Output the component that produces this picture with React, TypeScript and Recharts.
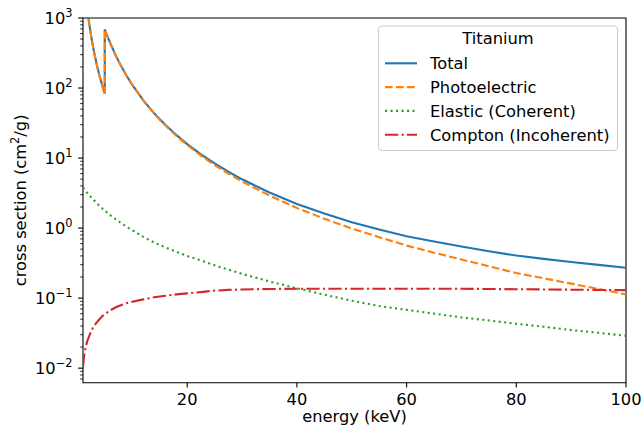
import React from 'react';
import { LineChart, Line, XAxis, YAxis, Legend, ReferenceArea } from 'recharts';

// ---- data ----
const energyKeV = [1, 1.25, 1.5, 1.75, 2, 2.5, 3, 3.5, 4, 4.5, 4.966, 4.966, 5.5, 6, 7, 8, 9, 10, 12, 14, 15, 16, 18, 20, 22.5, 25, 27.5, 30, 35, 40, 45, 50, 55, 60, 65, 70, 75, 80, 85, 90, 95, 100];
const totalCS = [5869, 3330, 2096, 1400, 986, 542, 332, 218, 151.1, 110, 84.0, 687.8, 538, 432.3, 288, 202.3, 147, 110.7, 66.7, 43.5, 35.87, 29.9, 21.4, 15.85, 11.3, 8.37, 6.38, 4.972, 3.22, 2.214, 1.61, 1.213, 0.954, 0.7661, 0.642, 0.545, 0.468, 0.4052, 0.364, 0.328, 0.298, 0.2721];
const photoCS = [5865, 3326, 2093, 1397, 983, 539, 329, 216, 149, 108, 82.2, 686, 536, 430.7, 286.6, 201.0, 146, 109.7, 65.9, 42.8, 35.19, 29.3, 20.8, 15.33, 10.83, 7.95, 6.0, 4.617, 2.91, 1.94, 1.36, 0.985, 0.741, 0.562, 0.446, 0.356, 0.285, 0.228, 0.192, 0.161, 0.135, 0.113];
const elasticCS = [3.8, 3.6, 3.4, 3.2, 3.05, 2.75, 2.5, 2.28, 2.08, 1.92, 1.78, 1.78, 1.64, 1.52, 1.33, 1.17, 1.04, 0.93, 0.75, 0.62, 0.575, 0.53, 0.46, 0.40, 0.345, 0.295, 0.255, 0.222, 0.173, 0.138, 0.112, 0.092, 0.077, 0.068, 0.060, 0.053, 0.048, 0.043, 0.039, 0.035, 0.032, 0.029];
const comptonCS = [0.0105, 0.016, 0.020, 0.024, 0.027, 0.034, 0.040, 0.045, 0.050, 0.055, 0.059, 0.059, 0.063, 0.067, 0.074, 0.080, 0.085, 0.089, 0.096, 0.103, 0.1055, 0.108, 0.113, 0.117, 0.122, 0.128, 0.131, 0.133, 0.135, 0.136, 0.136, 0.136, 0.136, 0.136, 0.136, 0.136, 0.135, 0.134, 0.133, 0.132, 0.131, 0.130];

const xTicks = [20, 40, 60, 80, 100];
const yMajorTicks = [0.01, 0.1, 1, 10, 100, 1000];
const yMinorTicks = [
  0.007, 0.008, 0.009,
  0.02, 0.03, 0.04, 0.05, 0.06, 0.07, 0.08, 0.09,
  0.2, 0.3, 0.4, 0.5, 0.6, 0.7, 0.8, 0.9,
  2, 3, 4, 5, 6, 7, 8, 9,
  20, 30, 40, 50, 60, 70, 80, 90,
  200, 300, 400, 500, 600, 700, 800, 900,
];
const yTicks = [...yMinorTicks, ...yMajorTicks].sort((a, b) => a - b);
const xDomain: [number, number] = [1, 100];
const yDomain: [number, number] = [0.0062, 1000];

const legendTitle = 'Titanium';
const xLabel = 'energy (keV)';

const series = [
  { key: 'total', name: 'Total', color: '#1f77b4', dash: undefined as string | undefined },
  { key: 'photo', name: 'Photoelectric', color: '#ff7f0e', dash: '7.7 3.3' },
  { key: 'elastic', name: 'Elastic (Coherent)', color: '#2ca02c', dash: '2.1 3.4' },
  { key: 'compton', name: 'Compton (Incoherent)', color: '#d62728', dash: '13.3 3.3 2.1 3.3' },
];

const data = energyKeV.map((e, i) => ({
  energy: e,
  total: totalCS[i],
  photo: photoCS[i],
  elastic: elasticCS[i],
  compton: comptonCS[i],
}));

// ---- layout ----
const W = 641;
const H = 431;
const PL = 83;
const PT = 18;
const PR = 626;
const PB = 382.7;
const FONT = '"DejaVu Sans", sans-serif';
const FS = 16.3;
const SUPFS = 11.4;

const YTick = (props: any) => {
  const { y, payload } = props;
  const v = payload.value as number;
  const exp = Math.round(Math.log10(v));
  const major = Math.abs(v / Math.pow(10, exp) - 1) < 1e-6;
  return (
    <g>
      <line x1={PL - (major ? 4.9 : 2.8)} x2={PL} y1={y} y2={y} stroke="#000" strokeWidth={major ? 1.1 : 0.85} />
      {major && (
        <text x={PL - 10.5} y={y + 6.3} textAnchor="end" fontSize={FS} fill="#000" fontFamily={FONT}>
          10
          <tspan dy={-7} fontSize={SUPFS}>{exp < 0 ? `\u2212${-exp}` : `${exp}`}</tspan>
        </text>
      )}
    </g>
  );
};

const XTick = (props: any) => {
  const { x, payload } = props;
  return (
    <g>
      <line x1={x} x2={x} y1={PB} y2={PB + 4.9} stroke="#000" strokeWidth={1.1} />
      <text x={x} y={404.5} textAnchor="middle" fontSize={FS} fill="#000" fontFamily={FONT}>
        {payload.value}
      </text>
    </g>
  );
};

const XLabel = () => (
  <text x={(PL + PR) / 2} y={421.7} textAnchor="middle" fontSize={FS} fill="#000" fontFamily={FONT}>
    {xLabel}
  </text>
);

const YLabel = () => (
  <text
    transform={`translate(26.3, ${(PT + PB) / 2}) rotate(-90)`}
    textAnchor="middle"
    fontSize={FS}
    fill="#000"
    fontFamily={FONT}
  >
    cross section (cm
    <tspan dy={-7} fontSize={SUPFS}>2</tspan>
    <tspan dy={7} fontSize={FS}>/g)</tspan>
  </text>
);

const LegendBox = () => (
  <svg width={W} height={H} style={{ position: 'absolute', left: 0, top: 0, overflow: 'visible' }}>
    <rect x={378.5} y={26} width={239} height={124.5} rx={3.5} fill="#fff" fillOpacity={0.8} stroke="#cccccc" strokeWidth={1} />
    <text x={498} y={44} textAnchor="middle" fontSize={FS} fill="#000" fontFamily={FONT}>
      {legendTitle}
    </text>
    {series.map((s, i) => {
      const cy = 63.3 + i * 23.8;
      return (
        <g key={s.key}>
          <line x1={385} x2={417} y1={cy} y2={cy} stroke={s.color} strokeWidth={2.1} strokeDasharray={s.dash} />
          <text x={430} y={cy + 6} fontSize={FS} fill="#000" fontFamily={FONT}>
            {s.name}
          </text>
        </g>
      );
    })}
  </svg>
);

export default function App() {
  return (
    <div style={{ position: 'absolute', left: 0, top: 0, width: W, height: H, background: '#fff' }}>
      <LineChart width={W} height={H} data={data} margin={{ top: PT, right: W - PR, bottom: 0, left: 0 }}>
        <XAxis
          dataKey="energy"
          type="number"
          domain={xDomain}
          allowDataOverflow
          ticks={xTicks}
          interval={0}
          tick={<XTick />}
          tickLine={false}
          axisLine={false}
          height={H - PB}
          label={<XLabel />}
        />
        <YAxis
          type="number"
          scale="log"
          domain={yDomain}
          allowDataOverflow
          ticks={yTicks}
          interval={0}
          tick={<YTick />}
          tickLine={false}
          tickSize={0}
          tickMargin={0}
          axisLine={false}
          width={PL}
          label={<YLabel />}
        />
        {series.map((s) => (
          <Line
            key={s.key}
            type="linear"
            dataKey={s.key}
            name={s.name}
            stroke={s.color}
            strokeWidth={2.1}
            strokeDasharray={s.dash}
            dot={false}
            activeDot={false}
            isAnimationActive={false}
          />
        ))}
        <ReferenceArea
          x1={xDomain[0]}
          x2={xDomain[1]}
          y1={yDomain[0]}
          y2={yDomain[1]}
          fill="none"
          stroke="#000"
          strokeWidth={1.1}
          ifOverflow="visible"
        />
        <Legend
          content={<LegendBox />}
          layout="vertical"
          align="center"
          verticalAlign="middle"
          wrapperStyle={{ left: 0, top: 0, width: W, height: H, pointerEvents: 'none' }}
        />
      </LineChart>
    </div>
  );
}
